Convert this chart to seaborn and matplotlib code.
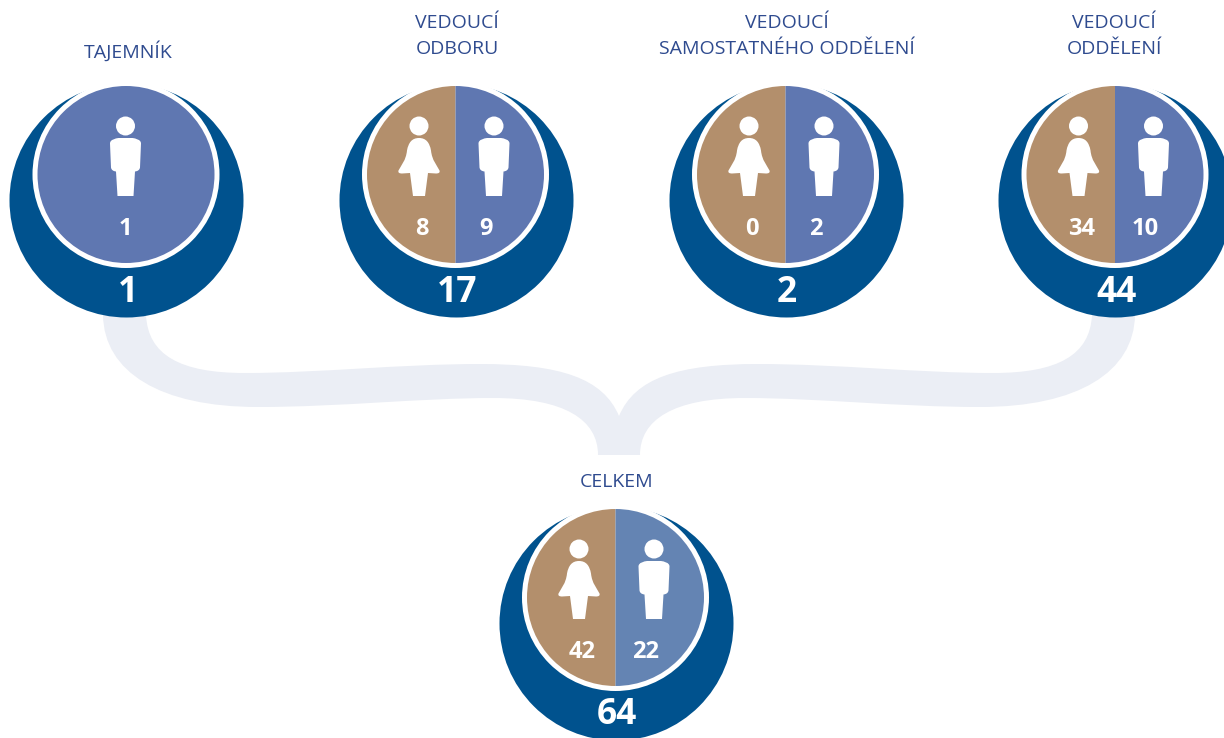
import matplotlib
matplotlib.use("Agg")
import matplotlib.pyplot as plt
from matplotlib.patches import Circle, Wedge, PathPatch
from matplotlib.path import Path
import pandas as pd
import seaborn as sns

# ==========================================
# DATA
# ==========================================
titles = ["TAJEMNÍK", "VEDOUCÍ\nODBORU", "VEDOUCÍ\nSAMOSTATNÉHO ODDĚLENÍ", "VEDOUCÍ\nODDĚLENÍ", "CELKEM"]
women = [None, 8, 0, 34, 42]
men = [1, 9, 2, 10, 22]
totals = [1, 17, 2, 44, 64]

# ==========================================
# LAYOUT (pixels of the picture)
# ==========================================
centers_x = [125.5, 455, 785, 1114.5, 615]
centers_y = [174.5, 174.5, 174.5, 174.5, 597.5]
title_y = [51, 36, 36, 36, 482]
title_x = [128, 457, 787, 1114, 617]
man_colors = ["#5f77b1", "#5f77b1", "#5f77b1", "#5f77b1", "#6484b3"]

DARK = "#00528e"
BROWN = "#b38f6c"
BAND = "#ebeef5"
TEXT = "#2f4b8f"
BAND_MIRROR = 1238

sns.set_theme(style="white")
plt.rcParams["font.family"] = ["Open Sans", "DejaVu Sans"]

fig, ax = plt.subplots(figsize=(12.24, 7.38), dpi=100)
fig.subplots_adjust(0, 0, 1, 1)
ax.set_xlim(0, 1224)
ax.set_ylim(738, 0)
ax.set_aspect("equal")
ax.axis("off")

# left half of the connector: top edge to the tip, then bottom edge back
top_edge = [(146, 315), (148, 355), (180, 373), (245, 373),
            (320, 373), (400, 364), (480, 364),
            (560, 364), (603, 378), (619, 416)]
bottom_edge = [(598, 455), (598, 420), (565, 398), (493, 398),
               (420, 398), (340, 407), (258, 407),
               (160, 407), (104, 372), (103, 315)]


def mirror(points):
    return [(BAND_MIRROR - x, y) for x, y in reversed(points)]


def curve_codes(n):
    return [Path.CURVE4] * n


band_pts = [(103, 315)] + top_edge + mirror(top_edge)[1:] + [(1135, 315)]
band_codes = [Path.MOVETO, Path.LINETO] + curve_codes(9) + curve_codes(9) + [Path.LINETO]
band_pts += mirror(bottom_edge)[1:] + bottom_edge[:1] + bottom_edge[1:]
band_codes += curve_codes(9) + [Path.LINETO] + curve_codes(9)
band_pts.append((103, 315))
band_codes.append(Path.CLOSEPOLY)
ax.add_patch(PathPatch(Path(band_pts, band_codes), fc=BAND, ec="none", zorder=1))


def add_shape(steps):
    path = Path([p for _, p in steps], [c for c, _ in steps])
    ax.add_patch(PathPatch(path, fc="white", ec="none", zorder=5))


def draw_man(x, y):
    ax.add_patch(Circle((x, y - 48.5), 9.5, fc="white", ec="none", zorder=5))
    add_shape([
        (Path.MOVETO, (x - 15.5, y - 31)),
        (Path.CURVE4, (x - 15.5, y - 35)), (Path.CURVE4, (x - 10, y - 36)), (Path.CURVE4, (x - 7, y - 36.5)),
        (Path.LINETO, (x + 7, y - 36.5)),
        (Path.CURVE4, (x + 10, y - 36)), (Path.CURVE4, (x + 15.5, y - 35)), (Path.CURVE4, (x + 15.5, y - 31)),
        (Path.LINETO, (x + 14.5, y - 7)),
        (Path.CURVE3, (x + 14, y - 3.5)), (Path.CURVE3, (x + 9.5, y - 3)),
        (Path.LINETO, (x + 8, y + 21.5)),
        (Path.LINETO, (x - 8, y + 21.5)),
        (Path.LINETO, (x - 9.5, y - 3)),
        (Path.CURVE3, (x - 14, y - 3.5)), (Path.CURVE3, (x - 14.5, y - 7)),
        (Path.CLOSEPOLY, (x - 15.5, y - 31)),
    ])


def draw_woman(x, y):
    ax.add_patch(Circle((x, y - 48.5), 9.5, fc="white", ec="none", zorder=5))
    add_shape([
        (Path.MOVETO, (x, y - 36.5)),
        (Path.CURVE4, (x + 7, y - 36.5)), (Path.CURVE4, (x + 10.5, y - 32)), (Path.CURVE4, (x + 12, y - 24)),
        (Path.CURVE4, (x + 13, y - 14)), (Path.CURVE4, (x + 18, y - 9)), (Path.CURVE4, (x + 20.5, y - 4)),
        (Path.CURVE3, (x + 21.5, y - 1)), (Path.CURVE3, (x + 17, y - 1)),
        (Path.LINETO, (x + 9, y - 1.5)),
        (Path.LINETO, (x + 6, y + 21.5)),
        (Path.LINETO, (x - 6, y + 21.5)),
        (Path.LINETO, (x - 9, y - 1.5)),
        (Path.LINETO, (x - 17, y - 1)),
        (Path.CURVE3, (x - 21.5, y - 1)), (Path.CURVE3, (x - 20.5, y - 4)),
        (Path.CURVE4, (x - 18, y - 9)), (Path.CURVE4, (x - 13, y - 14)), (Path.CURVE4, (x - 12, y - 24)),
        (Path.CURVE4, (x - 10.5, y - 32)), (Path.CURVE4, (x - 7, y - 36.5)), (Path.CURVE4, (x, y - 36.5)),
        (Path.CLOSEPOLY, (x, y - 36.5)),
    ])


# outer discs go through seaborn, size is area in pt^2 (r = 117 px)
discs = pd.DataFrame({"x": [cx + 0.75 for cx in centers_x], "y": [cy + 25.5 for cy in centers_y]})
sns.scatterplot(data=discs, x="x", y="y", s=(2 * 117 * 0.72) ** 2, color=DARK, linewidth=0,
                legend=False, ax=ax, zorder=2)
ax.set_xlabel("")
ax.set_ylabel("")

for i in range(len(titles)):
    cx, cy = centers_x[i], centers_y[i]
    ax.add_patch(Circle((cx + 0.5, cy), 93.5, fc="white", ec="none", zorder=3))
    if women[i] is None:
        ax.add_patch(Circle((cx + 0.5, cy), 88.5, fc=man_colors[i], ec="none", zorder=4))
        draw_man(cx, cy)
        ax.text(cx, cy + 54.5, str(men[i]), color="white", fontsize=17, fontweight="bold",
                ha="center", va="center", zorder=6)
    else:
        ax.add_patch(Wedge((cx + 0.5, cy), 88.5, 90, 270, fc=BROWN, ec="none", zorder=4))
        ax.add_patch(Wedge((cx + 0.5, cy), 88.5, 270, 90, fc=man_colors[i], ec="none", zorder=4))
        draw_woman(cx - 36, cy)
        draw_man(cx + 39, cy)
        ax.text(cx - 33, cy + 54.5, str(women[i]), color="white", fontsize=17, fontweight="bold",
                ha="center", va="center", zorder=6)
        ax.text(cx + 31, cy + 54.5, str(men[i]), color="white", fontsize=17, fontweight="bold",
                ha="center", va="center", zorder=6)
    ax.text(cx + 2, cy + 118, str(totals[i]), color="white", fontsize=25.5, fontweight="bold",
            ha="center", va="center", zorder=6)
    ax.text(title_x[i], title_y[i], titles[i], color=TEXT, fontsize=14, ha="center", va="center",
            linespacing=1.6)

plt.savefig("out.png", dpi=100)
